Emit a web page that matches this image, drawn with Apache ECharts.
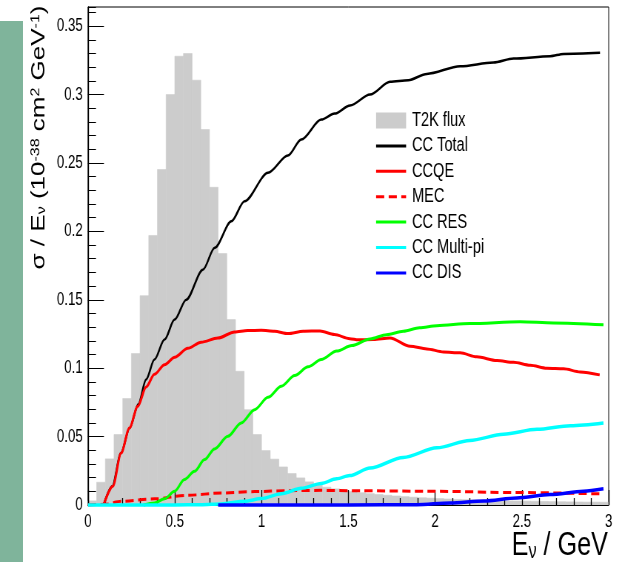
<!DOCTYPE html>
<html>
<head>
<meta charset="utf-8">
<script src="https://cdn.jsdelivr.net/npm/echarts@6/dist/echarts.min.js"></script>
<style>
  html, body { margin: 0; padding: 0; background: #ffffff; overflow: hidden; }
  /* The plot is laid out on a wider canvas and compressed horizontally to the 622px frame,
     which gives the narrow lettering of the original figure. */
  #frame { width: 622px; height: 562px; overflow: hidden; position: relative; }
  #chart { width: 840px; height: 562px; transform: scaleX(0.740476); transform-origin: 0 0; }
</style>
</head>
<body>
<div id="frame"><div id="chart"></div></div>
<script>
// T2K flux histogram: 0.05 GeV bins from 0 to 3 GeV (arbitrary normalisation)
const fluxBinWidth = 0.05;
const fluxValues = [
  0.003, 0.0166, 0.0337, 0.0515, 0.0778, 0.1107, 0.153, 0.197, 0.2452, 0.300,
  0.328, 0.330, 0.3105, 0.2744, 0.2322, 0.1838, 0.1355, 0.0977, 0.0697, 0.0515,
  0.0398, 0.0335, 0.0278, 0.023, 0.0198, 0.0169, 0.0145, 0.013, 0.0118, 0.0108,
  0.0098, 0.009, 0.0083, 0.0077, 0.0071, 0.0066, 0.0061, 0.0057, 0.0053, 0.005,
  0.0047, 0.0044, 0.0041, 0.0039, 0.0037, 0.0035, 0.0033, 0.0031, 0.003, 0.0029,
  0.0028, 0.0027, 0.0026, 0.0025, 0.0024, 0.0023, 0.0022, 0.0021, 0.0021, 0.002
];

// CC Total
const totalE = [0.09, 0.14, 0.19, 0.24, 0.29, 0.335, 0.383, 0.441, 0.499, 0.566, 0.662, 0.73, 0.826, 0.902, 1.037, 1.152, 1.229, 1.344, 1.421, 1.51, 1.625, 1.74, 1.846, 1.952, 2.144, 2.336, 2.452, 2.663, 2.74, 2.95];
const totalXs = [0, 0.0137, 0.038, 0.0563, 0.0737, 0.0917, 0.1063, 0.1209, 0.1355, 0.1501, 0.172, 0.188, 0.2074, 0.222, 0.2428, 0.2554, 0.2671, 0.2817, 0.2861, 0.292, 0.300, 0.3093, 0.3105, 0.3151, 0.3207, 0.3234, 0.3263, 0.328, 0.3297, 0.3305];

// CCQE
const ccqeE = [0.09, 0.143, 0.191, 0.239, 0.287, 0.335, 0.383, 0.441, 0.5, 0.575, 0.652, 0.748, 0.845, 0.92, 0.998, 1.075, 1.152, 1.24, 1.337, 1.42, 1.508, 1.558, 1.644, 1.74, 1.856, 1.952, 2.048, 2.144, 2.24, 2.356, 2.452, 2.548, 2.644, 2.74, 2.836, 2.948];
const ccqeXs = [0, 0.0137, 0.038, 0.0563, 0.0722, 0.0863, 0.0955, 0.1025, 0.108, 0.1145, 0.119, 0.122, 0.1265, 0.1275, 0.1277, 0.127, 0.1253, 0.127, 0.1272, 0.1246, 0.1216, 0.1207, 0.1209, 0.1221, 0.116, 0.1141, 0.1119, 0.1112, 0.1083, 0.1056, 0.1043, 0.1021, 0.0999, 0.0995, 0.0973, 0.0951];

// MEC
const mecE = [0, 0.1, 0.191, 0.383, 0.575, 0.768, 0.96, 1.152, 1.344, 1.51, 2.01, 2.47, 2.97];
const mecXs = [0, 0.0005, 0.0027, 0.0045, 0.0071, 0.0088, 0.0098, 0.0105, 0.0107, 0.0105, 0.01, 0.0091, 0.0081];

// CC RES
const resE = [0.32, 0.383, 0.441, 0.499, 0.556, 0.614, 0.672, 0.729, 0.806, 0.883, 0.96, 1.037, 1.114, 1.191, 1.268, 1.344, 1.433, 1.52, 1.625, 1.72, 1.817, 1.91, 2.01, 2.2, 2.49, 2.682, 2.97];
const resXs = [0, 0.0015, 0.0045, 0.010, 0.0186, 0.0246, 0.0332, 0.041, 0.0502, 0.06, 0.0697, 0.0787, 0.0868, 0.0946, 0.101, 0.1063, 0.1125, 0.1165, 0.1214, 0.1245, 0.127, 0.1295, 0.1311, 0.1326, 0.134, 0.1331, 0.1317];

// CC Multi-pi
const multiE = [0, 0.3, 0.5, 0.65, 0.768, 0.902, 1.0, 1.114, 1.229, 1.344, 1.433, 1.508, 1.625, 1.817, 2.01, 2.2, 2.394, 2.587, 2.78, 2.97];
const multiXs = [0, 0, 0, 0.0002, 0.0008, 0.0027, 0.0047, 0.0083, 0.0122, 0.0158, 0.0192, 0.0215, 0.027, 0.0348, 0.0418, 0.0472, 0.0517, 0.0553, 0.058, 0.06];

// CC DIS
const disE = [0.75, 1.0, 1.5, 1.894, 2.087, 2.28, 2.47, 2.663, 2.855, 2.97];
const disXs = [0, 0, 0, 0.0002, 0.0015, 0.003, 0.0052, 0.0076, 0.01, 0.0118];

// Axis ticks
const xTickStep = 0.5;
const yTickStep = 0.05;
const yMinorStep = 0.01;

const font = "'Liberation Sans', Arial, Helvetica, sans-serif";

const zip = (xs, ys) => xs.map((x, i) => [x, ys[i]]);
const fluxData = fluxValues.map((v, i) => [
  +(i * fluxBinWidth).toFixed(2), +((i + 1) * fluxBinWidth).toFixed(2), v
]);

function curve(name, xs, ys, color, width, dash) {
  return {
    type: 'line',
    name: name,
    data: zip(xs, ys),
    symbol: 'none',
    smooth: 0.3,
    smoothMonotone: 'x',
    clip: false,
    lineStyle: { color: color, width: width, type: dash || 'solid' },
    itemStyle: { color: color },
    z: 3
  };
}

const chart = echarts.init(document.getElementById('chart'), null, { renderer: 'canvas' });

chart.setOption({
  animation: false,
  backgroundColor: '#ffffff',
  grid: {
    left: 118.8, right: 18, top: 7, bottom: 57,
    show: true, borderColor: '#000000', borderWidth: 1, backgroundColor: 'transparent'
  },
  xAxis: {
    type: 'value', min: 0, max: 3, interval: xTickStep,
    axisLine: { show: true, lineStyle: { color: '#000000', width: 1 } },
    axisTick: { show: true, inside: true, length: 15, lineStyle: { color: '#000000', width: 1.3 } },
    minorTick: { show: true, splitNumber: 5, length: 7, lineStyle: { color: '#000000', width: 1.3 } },
    splitLine: { show: false },
    axisLabel: { color: '#000000', fontFamily: font, fontSize: 18, margin: 8 },
    z: 2
  },
  yAxis: [
    {
      type: 'value', min: 0, max: 0.364, interval: yTickStep, position: 'left',
      axisLine: { show: true, lineStyle: { color: '#000000', width: 1.3 } },
      axisTick: { show: true, inside: true, length: 21.6, lineStyle: { color: '#000000', width: 1 } },
      splitLine: { show: false },
      axisLabel: { color: '#000000', fontFamily: font, fontSize: 18, margin: 7, showMaxLabel: false },
      z: 2
    },
    {
      type: 'value', min: 0, max: 0.364, interval: yMinorStep, position: 'left',
      axisLine: { show: false },
      axisTick: { show: true, inside: true, length: 10.8, lineStyle: { color: '#000000', width: 1 } },
      splitLine: { show: false },
      axisLabel: { show: false },
      z: 2
    }
  ],
  legend: {
    orient: 'vertical', left: 506.4, top: 110.5, padding: 0,
    itemWidth: 40.5, itemHeight: 16, itemGap: 5.4,
    selectedMode: false,
    lineStyle: { width: 3 },
    itemStyle: { opacity: 0 },
    textStyle: { color: '#000000', fontFamily: font, fontSize: 19.7, padding: [0, 0, 0, 3] },
    data: [
      { name: 'T2K flux', icon: 'rect', itemStyle: { opacity: 1, color: '#cccccc' } },
      'CC Total', 'CCQE', 'MEC', 'CC RES', 'CC Multi-pi', 'CC DIS'
    ]
  },
  graphic: [
    { type: 'rect', shape: { x: 0, y: 21, width: 31, height: 541 }, style: { fill: '#7fb49b' }, z: -1 },
    {
      type: 'text', x: 41, y: 5.5, rotation: Math.PI / 2,
      style: {
        text: '{m|σ / E}{s|ν}{m| (10}{p|-38}{m| cm}{p|2}{m| GeV}{p|-1}{m|)}',
        align: 'right', verticalAlign: 'top', fill: '#000000',
        rich: {
          m: { fontFamily: font, fontSize: 26, lineHeight: 24, verticalAlign: 'middle', fill: '#000000' },
          p: { fontFamily: font, fontSize: 16, lineHeight: 20, verticalAlign: 'top', fill: '#000000' },
          s: { fontFamily: font, fontSize: 16, lineHeight: 15, verticalAlign: 'bottom', fill: '#000000' }
        }
      }
    },
    {
      type: 'text', x: 821, y: 529,
      style: {
        text: '{m|E}{s|ν}{m| / GeV}',
        align: 'right', verticalAlign: 'top', fill: '#000000',
        rich: {
          m: { fontFamily: font, fontSize: 34, lineHeight: 34, verticalAlign: 'top', fill: '#000000' },
          s: { fontFamily: font, fontSize: 22, lineHeight: 22, verticalAlign: 'bottom', fill: '#000000', padding: [18, 0, 0, 0] }
        }
      }
    }
  ],
  series: [
    {
      type: 'custom',
      name: 'T2K flux',
      yAxisIndex: 0,
      clip: true,
      encode: { x: [0, 1], y: 2 },
      itemStyle: { color: '#cccccc' },
      z: 1,
      renderItem: function (params, api) {
        const top = api.coord([api.value(0), api.value(2)]);
        const base = api.coord([api.value(1), 0]);
        return {
          type: 'rect',
          shape: { x: top[0], y: top[1], width: base[0] - top[0], height: base[1] - top[1] },
          style: { fill: '#cccccc', stroke: '#cccccc', lineWidth: 0.6 }
        };
      },
      data: fluxData
    },
    curve('CC Total', totalE, totalXs, '#000000', 2.5),
    curve('CCQE', ccqeE, ccqeXs, '#ff0000', 3),
    curve('MEC', mecE, mecXs, '#ff0000', 3, [11, 6]),
    curve('CC RES', resE, resXs, '#00ff00', 3),
    curve('CC Multi-pi', multiE, multiXs, '#00ffff', 3.5),
    curve('CC DIS', disE, disXs, '#0000ff', 3.5)
  ]
});
</script>
</body>
</html>
